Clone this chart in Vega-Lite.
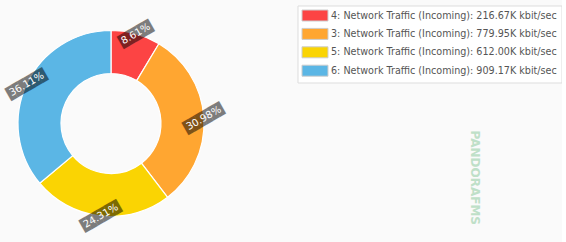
{
  "$schema": "https://vega.github.io/schema/vega-lite/v6.json",
  "width": 222,
  "height": 237,
  "padding": {"left": 0, "top": 5, "right": 0, "bottom": 0},
  "background": "#fafafa",
  "config": {"view": {"stroke": null}},
  "title": {
    "text": "PANDORAFMS",
    "orient": "right",
    "angle": 90,
    "anchor": "end",
    "offset": -94,
    "dx": -17,
    "font": "DejaVu Sans",
    "fontSize": 12,
    "fontWeight": "bold",
    "color": "#bfe0c8"
  },
  "data": {
    "values": [
      {"slot": 1, "series": "4: Network Traffic (Incoming): 216.67K kbit/sec", "share": 0.0861},
      {"slot": 2, "series": "3: Network Traffic (Incoming): 779.95K kbit/sec", "share": 0.3098},
      {"slot": 3, "series": "5: Network Traffic (Incoming): 612.00K kbit/sec", "share": 0.2431},
      {"slot": 4, "series": "6: Network Traffic (Incoming): 909.17K kbit/sec", "share": 0.3611}
    ]
  },
  "encoding": {
    "theta": {"field": "share", "type": "quantitative", "stack": true},
    "order": {"field": "slot", "type": "quantitative"}
  },
  "layer": [
    {
      "mark": {"type": "arc", "outerRadius": 93, "innerRadius": 50, "stroke": "#ffffff", "strokeWidth": 1.2},
      "encoding": {
        "color": {
          "field": "series",
          "type": "nominal",
          "scale": {
            "domain": [
              "4: Network Traffic (Incoming): 216.67K kbit/sec",
              "3: Network Traffic (Incoming): 779.95K kbit/sec",
              "5: Network Traffic (Incoming): 612.00K kbit/sec",
              "6: Network Traffic (Incoming): 909.17K kbit/sec"
            ],
            "range": ["#FC4444", "#FFA631", "#FAD403", "#5BB6E5"]
          },
          "legend": {
            "title": null,
            "orient": "none",
            "legendX": 297.5,
            "legendY": 0.5,
            "padding": 4,
            "strokeColor": "#dddddd",
            "fillColor": "#ffffff",
            "symbolType": "M-2.36,-1H2.36V1H-2.36Z",
            "symbolSize": 121,
            "symbolOffset": 7.5,
            "symbolStrokeColor": "#cccccc",
            "symbolStrokeWidth": 1,
            "symbolOpacity": 1,
            "labelFont": "DejaVu Sans",
            "labelFontSize": 9.6,
            "labelColor": "#555555",
            "labelLimit": 400,
            "labelOffset": 10,
            "rowPadding": 2.4
          }
        }
      }
    },
    {
      "transform": [
        {"calculate": "replace(format(datum.share, '.2%'), regexp('.', 'g'), '█')", "as": "box"}
      ],
      "mark": {"type": "text", "radius": 93, "angle": 330, "font": "DejaVu Sans Mono", "fontSize": 12, "color": "#000000", "opacity": 0.5},
      "encoding": {"text": {"field": "box", "type": "nominal"}}
    },
    {
      "mark": {"type": "text", "radius": 93, "angle": 330, "font": "DejaVu Sans", "fontSize": 10, "color": "#ffffff"},
      "encoding": {"text": {"field": "share", "type": "quantitative", "format": ".2%"}}
    }
  ]
}
